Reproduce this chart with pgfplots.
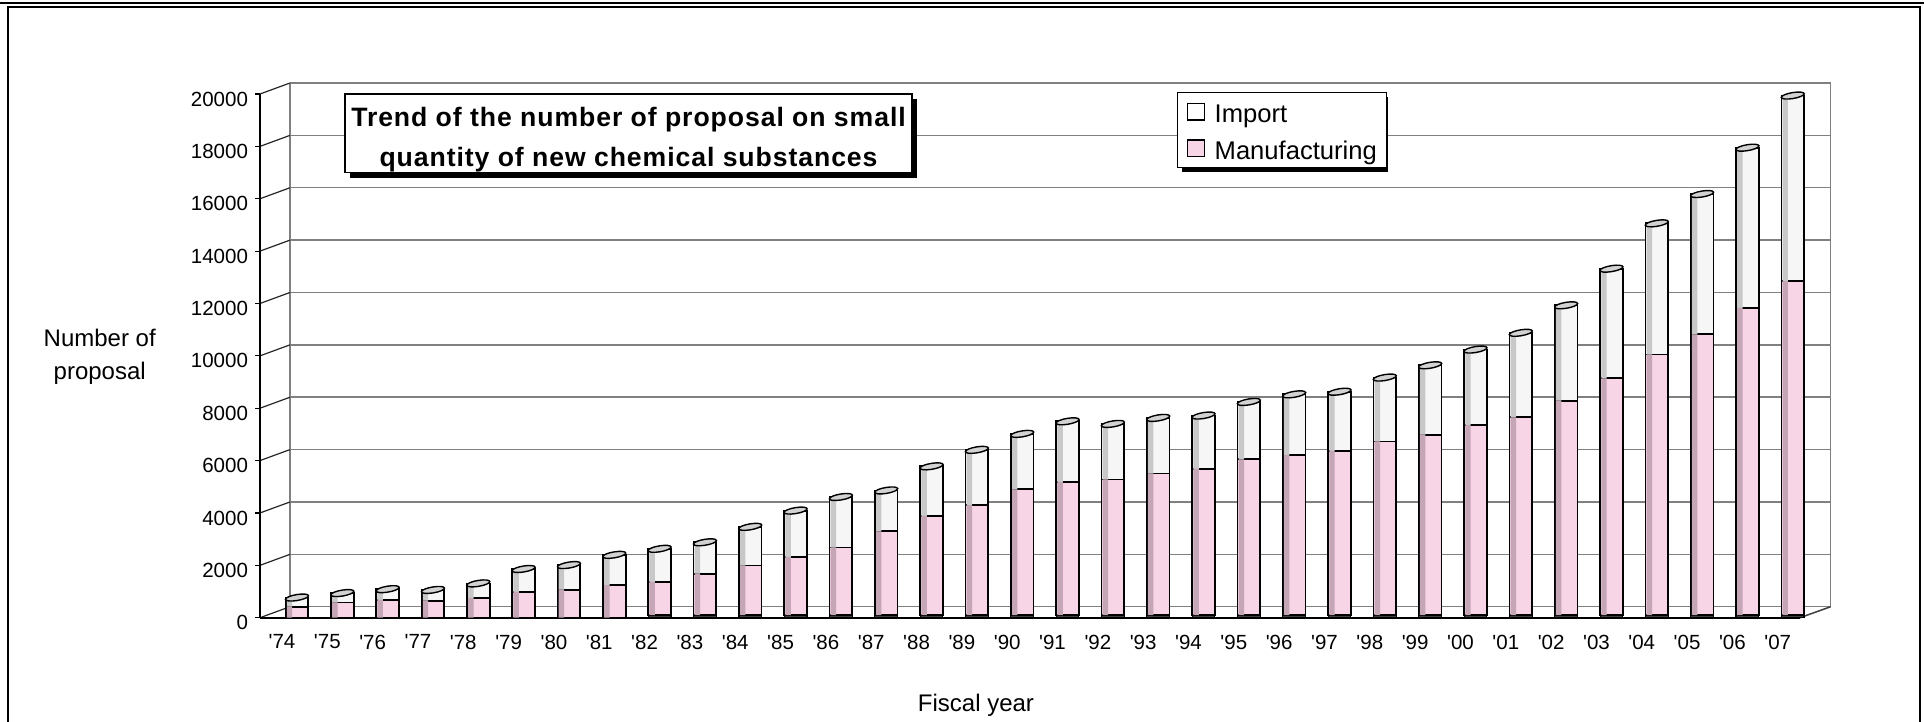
\documentclass[border=0pt]{standalone}
\usepackage{fontspec}
\setmainfont{Liberation Sans}
\newfontfamily\titlefamily{Liberation Sans}[LetterSpace=3.5]
\usepackage{pgfplots}
\usepackage{pgfplotstable}
\pgfplotsset{compat=1.18}
\usetikzlibrary{shadows}

\definecolor{mpink}{RGB}{247,212,230}
\definecolor{mpinkdk}{RGB}{196,166,182}
\definecolor{imp}{RGB}{246,246,246}
\definecolor{impdk}{RGB}{200,200,200}

% flat elliptic cap on top of each column
\pgfdeclareplotmark{cyltop}{%
  \pgfpathellipse{\pgfpointorigin}{\pgfqpoint{5.75pt}{0.9pt}}{\pgfqpoint{0pt}{1.5pt}}%
  \pgfusepathqfillstroke}

% fiscal years '74 .. '07 at 0..33
\pgfplotstableread{
idx bot manu imp total
0  0   420   350  770
1  0   580   360  940
2  0   680   410  1090
3  0   650   410  1060
4  0   760   550  1310
5  0   990   870  1860
6  0   1070  940  2010
7  0   1240  1160 2400
8  100 1270  1260 2630
9  100 1580  1200 2880
10 100 1890  1480 3470
11 100 2210  1780 4090
12 100 2580  1930 4610
13 100 3200  1560 4860
14 100 3780  1900 5780
15 100 4200  2110 6410
16 100 4800  2120 7020
17 100 5090  2310 7500
18 100 5180  2120 7400
19 100 5410  2120 7630
20 100 5580  2040 7720
21 100 5950  2190 8240
22 100 6120  2310 8530
23 100 6270  2260 8630
24 100 6630  2440 9170
25 100 6890  2650 9640
26 100 7250  2890 10240
27 100 7550  3230 10880
28 100 8190  3640 11930
29 100 9040  4190 13330
30 100 9950  5010 15060
31 100 10720 5360 16180
32 100 11730 6120 17950
33 100 12750 7090 19940
}\data

\newcommand\q{\textquotesingle}
\pgfplotsset{frontbox/.style={
  at={(130pt,-308.85pt)}, anchor=south west,
  scale only axis, width=770pt, height=261.85pt,
  xmin=-0.816, xmax=33.16, ymin=0, ymax=20000}}

\begin{document}
\begin{tikzpicture}[x=0.5pt,y=-0.5pt]
\path[use as bounding box] (0,0) rectangle (1924,722);
% outer frame
\draw[line width=0.8pt] (0,3)--(1924,3);
\draw[line width=0.8pt] (8,722)--(8,7)--(1920,7)--(1920,722);
% back wall, grid and depth lines
\draw[black!50,line width=0.75pt] (290,83)--(290,606.7) (1830.7,83)--(1830.7,606.7);
\foreach \k in {0,...,10}{
  \pgfmathsetmacro\yb{606.7-52.37*\k}
  \pgfmathsetmacro\yf{617.7-52.37*\k}
  \draw[black!50,line width=0.75pt] (290,\yb)--(1830.7,\yb);
  \draw[black!85,line width=0.6pt] (260,\yf)--(290,\yb);
}
\draw[black!75,line width=0.75pt] (1800,617.7)--(1830.7,606.7);
% legend shadow
\fill[black] (1181.7,96.7) rectangle (1387.7,172.3);

\begin{axis}[
  frontbox, name=ax,
  ybar stacked, bar width=0.5,
  axis x line*=bottom, axis y line*=left,
  axis line style={black,line width=0.8pt},
  xtick={0,...,33},
  xticklabels={\q74,\q75,\q76,\q77,\q78,\q79,\q80,\q81,\q82,\q83,\q84,\q85,\q86,\q87,\q88,\q89,\q90,\q91,\q92,\q93,\q94,\q95,\q96,\q97,\q98,\q99,\q00,\q01,\q02,\q03,\q04,\q05,\q06,\q07},
  xtick style={draw=none},
  ytick={0,2000,...,20000},
  ytick style={black,line width=0.6pt},
  tick align=outside, major tick length=2.5pt,
  scaled y ticks=false,
  /pgf/number format/1000 sep={},
  /pgf/number format/assume math mode=true,
  tick label style={font=\fontsize{10.25}{12}\selectfont},
  xticklabel style={xshift=-7.5pt, yshift=-2.5pt},
  yticklabel style={yshift=-2.5pt},
  clip=false,
  reverse legend,
  legend cell align=left,
  legend style={at={(0.5953,1.0044)}, anchor=north west, draw=black,
    line width=0.6pt, fill=white, font=\fontsize{12.8}{15}\selectfont,
    inner xsep=4.8pt, inner ysep=1.75pt, row sep=2.3pt, column sep=4.85pt,
    nodes={inner sep=0pt, text height=13.5pt, text depth=2.5pt}},
]
\addplot[fill=black!75, draw=black, line width=0.6pt, forget plot]
  table[x=idx,y=bot]{\data};
\addplot[draw=black, line width=0.9pt, fill=mpink,
  legend image code/.code={\draw[black,line width=0.7pt,fill=mpink] (0pt,-4.1pt) rectangle (8.3pt,4.1pt);}]
  table[x=idx,y=manu]{\data};
\addplot[draw=black, line width=0.9pt, fill=imp,
  legend image code/.code={\draw[black,line width=0.7pt,fill=white] (0pt,-4.1pt) rectangle (8.3pt,4.1pt);}]
  table[x=idx,y=imp]{\data};
\legend{Manufacturing,Import}
\end{axis}

% shaded left side of each column
\begin{axis}[frontbox, hide axis, clip=false,
  ybar stacked, bar width=0.12, bar shift=-0.165]
\addplot[draw=none, fill=none] table[x=idx,y=bot]{\data};
\addplot[draw=none, fill=mpinkdk] table[x=idx,y=manu]{\data};
\addplot[draw=none, fill=impdk] table[x=idx,y=imp]{\data};
\end{axis}

% column caps
\begin{axis}[frontbox, hide axis, clip=false]
\addplot[only marks, mark=cyltop, mark options={fill=gray!35, draw=black, line width=0.7pt}]
  table[x=idx,y=total]{\data};
\end{axis}

% title box
\node[draw, line width=0.6pt, fill=white,
  drop shadow={shadow xshift=2.5pt, shadow yshift=-2.5pt, fill=black, opacity=1},
  minimum width=283.5pt, minimum height=39.35pt, inner sep=0pt] at (628.5,133.35) {};
\node[anchor=base, inner sep=0pt, font=\titlefamily\bfseries\fontsize{13.3}{16}\selectfont]
  at (628.5,126.7) {Trend of the number of proposal on small};
\node[anchor=base, inner sep=0pt, font=\titlefamily\bfseries\fontsize{13.3}{16}\selectfont]
  at (628.5,166.7) {quantity of new chemical substances};
% axis titles
\node[align=center, font=\fontsize{12}{16.5}\selectfont] at (99.7,357) {Number of\\proposal};
\node[font=\fontsize{12}{14}\selectfont] at (976,705) {Fiscal year};
\end{tikzpicture}
\end{document}
